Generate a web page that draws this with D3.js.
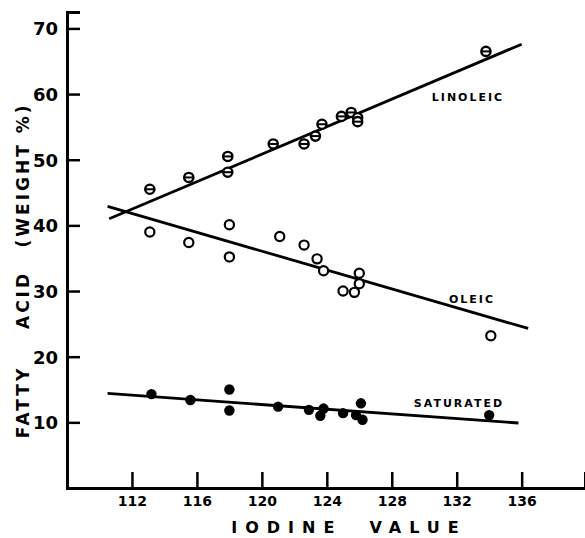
<!DOCTYPE html>
<html><head><meta charset="utf-8">
<script src="https://cdn.jsdelivr.net/npm/d3@7"></script>
<style>html,body{margin:0;padding:0;background:#fff;}svg{display:block;}</style>
</head><body>
<script>
const xTicks = [112,116,120,124,128,132,136];
const yTicks = [10,20,30,40,50,60,70];

const linoleicX = [113.1,115.5,117.9,117.9,120.7,122.6,123.3,123.7,124.9,125.5,125.9,125.9,133.8];
const linoleicY = [45.5,47.3,48.1,50.5,52.4,52.4,53.6,55.4,56.6,57.2,56.4,55.8,66.5];
const oleicX = [113.1,115.5,118.0,118.0,121.1,122.6,123.4,123.8,125.0,125.7,126.0,126.0,134.1];
const oleicY = [39.0,37.4,40.1,35.2,38.3,37.0,34.9,33.1,30.0,29.8,32.7,31.1,23.2];
const saturatedX = [113.2,115.6,118.0,118.0,121.0,122.9,123.8,123.6,125.0,125.8,126.1,126.2,134.0];
const saturatedY = [14.3,13.4,15.0,11.8,12.4,11.9,12.1,11.0,11.4,11.1,12.9,10.4,11.1];

const linoleicFit = [[110.6,41.0],[136.0,67.6]];
const oleicFit = [[110.5,42.9],[136.4,24.3]];
const saturatedFit = [[110.5,14.4],[135.8,9.9]];

const seriesLabels = ["LINOLEIC","OLEIC","SATURATED"];

const W = 585, H = 538;
const svg = d3.select("body").append("svg").attr("width",W).attr("height",H);

const x = d3.scaleLinear().domain([108,139.9]).range([67,585]);
const y = d3.scaleLinear().domain([0,72.5]).range([488,12]);

// axes
const xAxis = d3.axisBottom(x).tickValues(xTicks).tickSize(-16).tickPadding(5).tickFormat(d3.format("d"));
const yAxis = d3.axisLeft(y).tickValues(yTicks).tickSize(-13).tickPadding(9).tickFormat(d3.format("d"));

const gx = svg.append("g").attr("transform","translate(0,488)").call(xAxis);
gx.select(".domain").attr("stroke","#000").attr("stroke-width",3);
gx.selectAll(".tick line").attr("stroke","#000").attr("stroke-width",2.5);
gx.selectAll(".tick text").attr("font-family","DejaVu Sans").attr("font-weight","bold")
  .attr("font-size",14).attr("fill","#000").attr("dy","0.95em");

const gy = svg.append("g").attr("transform","translate(67,0)").call(yAxis);
gy.select(".domain").attr("stroke","#000").attr("stroke-width",3);
gy.selectAll(".tick line").attr("stroke","#000").attr("stroke-width",2.5);
gy.selectAll(".tick text").attr("font-family","DejaVu Sans").attr("font-weight","bold")
  .attr("font-size",18).attr("fill","#000").attr("dy","0.36em");

// axis titles
svg.append("text").attr("x",349).attr("y",533)
  .attr("text-anchor","middle").attr("font-family","DejaVu Sans").attr("font-weight","bold")
  .attr("font-size",16).attr("letter-spacing","8px").text("IODINE\u00a0\u00a0VALUE");

const yTitle = [["FATTY",402],["ACID",300],["(WEIGHT %)",175]];
yTitle.forEach(([t,c]) => {
  svg.append("text").attr("transform",`translate(29,${c}) rotate(-90)`)
    .attr("text-anchor","middle").attr("font-family","DejaVu Sans").attr("font-weight","bold")
    .attr("font-size",17).attr("letter-spacing","3px").text(t);
});

// fit lines
const line = d3.line().x(d=>x(d[0])).y(d=>y(d[1]));
[linoleicFit, oleicFit, saturatedFit].forEach(f => {
  svg.append("path").attr("d",line(f)).attr("fill","none").attr("stroke","#000").attr("stroke-width",2.8);
});

// markers
const r = 4.6;
const lin = svg.append("g");
linoleicX.forEach((xv,i) => {
  const cx = x(xv), cy = y(linoleicY[i]);
  lin.append("circle").attr("cx",cx).attr("cy",cy).attr("r",r).attr("fill","#fff").attr("stroke","#000").attr("stroke-width",2.4);
  lin.append("line").attr("x1",cx-r).attr("x2",cx+r).attr("y1",cy).attr("y2",cy).attr("stroke","#000").attr("stroke-width",2);
});
const ole = svg.append("g");
oleicX.forEach((xv,i) => {
  ole.append("circle").attr("cx",x(xv)).attr("cy",y(oleicY[i])).attr("r",r).attr("fill","#fff").attr("stroke","#000").attr("stroke-width",2.2);
});
const sat = svg.append("g");
saturatedX.forEach((xv,i) => {
  sat.append("circle").attr("cx",x(xv)).attr("cy",y(saturatedY[i])).attr("r",5.2).attr("fill","#000");
});

// series labels
const labelPos = [[468,97],[472,299],[459,403]];
seriesLabels.forEach((t,i) => {
  svg.append("text").attr("x",labelPos[i][0]).attr("y",labelPos[i][1]).attr("dy","0.36em")
    .attr("text-anchor","middle").attr("font-family","DejaVu Sans").attr("font-weight","bold")
    .attr("font-size",11).attr("letter-spacing","2px").text(t);
});
</script>
</body></html>
